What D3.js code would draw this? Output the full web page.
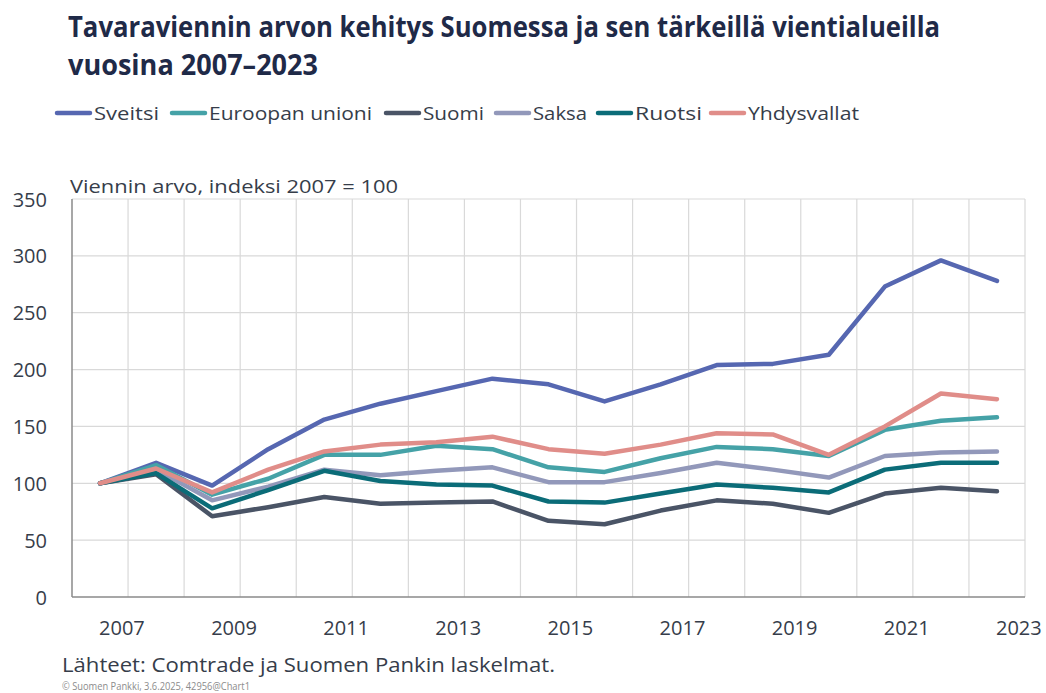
<!DOCTYPE html>
<html>
<head>
<meta charset="utf-8">
<script src="https://cdn.jsdelivr.net/npm/d3@7"></script>
<style>
  html, body { margin: 0; padding: 0; background: #ffffff; }
  svg { display: block; }
</style>
</head>
<body>
<svg id="chart" width="1046" height="693"></svg>
<script>
// ---------- data ----------
const years = [2007, 2008, 2009, 2010, 2011, 2012, 2013, 2014, 2015, 2016, 2017, 2018, 2019, 2020, 2021, 2022, 2023];
const seriesNames = ["Sveitsi", "Euroopan unioni", "Suomi", "Saksa", "Ruotsi", "Yhdysvallat"];
const sveitsi     = [100, 118, 98, 130, 156, 170, 181, 192, 187, 172, 187, 204, 205, 213, 273, 296, 278];
const euroopanUnioni = [100, 116, 90, 104, 125, 125, 133, 130, 114, 110, 122, 132, 130, 124, 147, 155, 158];
const suomi       = [100, 108, 71, 79, 88, 82, 83, 84, 67, 64, 76, 85, 82, 74, 91, 96, 93];
const saksa       = [100, 112, 85, 97, 112, 107, 111, 114, 101, 101, 109, 118, 112, 105, 124, 127, 128];
const ruotsi      = [100, 109, 78, 94, 111, 102, 99, 98, 84, 83, 91, 99, 96, 92, 112, 118, 118];
const yhdysvallat = [100, 113, 92, 112, 128, 134, 136, 141, 130, 126, 134, 144, 143, 125, 150, 179, 174];
const yTicks = [0, 50, 100, 150, 200, 250, 300, 350];
const xTickLabels = ["2007", "2009", "2011", "2013", "2015", "2017", "2019", "2021", "2023"];

// ---------- styles ----------
const colors = ["#5667b1", "#45a2a7", "#4a5466", "#9298ba", "#0b6c78", "#e08d89"];
const textColor = "#363d4a";
const fontBody = "'Open Sans', 'Noto Sans', sans-serif";
const fontTitle = "'Liberation Sans Narrow', 'Open Sans', 'Noto Sans', sans-serif";

const svg = d3.select("#chart");
const margin = { left: 72, right: 1025, top: 199, bottom: 597 };

const x = d3.scaleBand().domain(years).range([margin.left, margin.right]).padding(0);
const y = d3.scaleLinear().domain([0, 350]).range([margin.bottom, margin.top]);
const bw = x.bandwidth();
const cx = d => x(d) + bw / 2;

// ---------- title ----------
svg.append("text")
  .attr("x", 68).attr("y", 37)
  .attr("font-family", fontTitle).attr("font-weight", "bold")
  .attr("font-size", 28).attr("fill", "#1f2a48")
  .attr("textLength", 872).attr("lengthAdjust", "spacingAndGlyphs")
  .text("Tavaraviennin arvon kehitys Suomessa ja sen tärkeillä vientialueilla");
svg.append("text")
  .attr("x", 68).attr("y", 75)
  .attr("font-family", fontTitle).attr("font-weight", "bold")
  .attr("font-size", 28).attr("fill", "#1f2a48")
  .attr("textLength", 250).attr("lengthAdjust", "spacingAndGlyphs")
  .text("vuosina 2007–2023");

// ---------- legend ----------
const legendX = [57, 172, 386, 496, 598, 711];
const legendTextW = [65, 163, 61, 54, 67, 111];
const legendY = 113;
const lg = svg.append("g");
seriesNames.forEach((name, i) => {
  lg.append("line")
    .attr("x1", legendX[i]).attr("x2", legendX[i] + 33)
    .attr("y1", legendY).attr("y2", legendY)
    .attr("stroke", colors[i]).attr("stroke-width", 4.5).attr("stroke-linecap", "round");
  lg.append("text")
    .attr("x", legendX[i] + 37).attr("y", legendY + 7)
    .attr("font-family", fontBody).attr("font-size", 19).attr("fill", textColor)
    .attr("textLength", legendTextW[i]).attr("lengthAdjust", "spacingAndGlyphs")
    .text(name);
});

// ---------- grid ----------
const grid = svg.append("g");
// horizontal gridlines
grid.selectAll("line.h").data(yTicks.filter(t => t > 0)).join("line")
  .attr("x1", margin.left).attr("x2", margin.right)
  .attr("y1", d => y(d)).attr("y2", d => y(d))
  .attr("stroke", "#d9d9d9").attr("stroke-width", 1.2);
// vertical gridlines at band boundaries
const vPos = years.map(d => x(d)).slice(1).concat([margin.right]);
grid.selectAll("line.v").data(vPos).join("line")
  .attr("x1", d => d).attr("x2", d => d)
  .attr("y1", margin.top).attr("y2", margin.bottom)
  .attr("stroke", "#d9d9d9").attr("stroke-width", 1.2);

// axes lines
svg.append("line")
  .attr("x1", margin.left).attr("x2", margin.left)
  .attr("y1", margin.top).attr("y2", margin.bottom)
  .attr("stroke", "#8a8a8a").attr("stroke-width", 1.5);
svg.append("line")
  .attr("x1", margin.left).attr("x2", margin.right)
  .attr("y1", margin.bottom).attr("y2", margin.bottom)
  .attr("stroke", "#8a8a8a").attr("stroke-width", 1.5);

// y tick labels via axis
const yAxis = d3.axisLeft(y).tickValues(yTicks).tickSize(0).tickPadding(0);
const yg = svg.append("g").attr("transform", "translate(47,0)").call(yAxis);
yg.select(".domain").remove();
yg.selectAll("text")
  .attr("font-family", fontBody).attr("font-size", 20).attr("fill", textColor)
  .attr("dy", "0.35em");

// x tick labels (every second year; labels sit right of the category centre as in the source)
const xAxis = d3.axisBottom(x).tickValues(xTickLabels.map(Number)).tickSize(0).tickPadding(0)
  .tickFormat(d3.format("d"));
const xg = svg.append("g").attr("transform", `translate(${bw * 0.39},${margin.bottom + 38})`).call(xAxis);
xg.select(".domain").remove();
xg.selectAll("text")
  .attr("font-family", fontBody).attr("font-size", 20).attr("fill", textColor)
  .attr("dy", "0");

// y axis title
svg.append("text")
  .attr("x", 70).attr("y", 193)
  .attr("font-family", fontBody).attr("font-size", 19).attr("fill", textColor)
  .attr("textLength", 328).attr("lengthAdjust", "spacingAndGlyphs")
  .text("Viennin arvo, indeksi 2007 = 100");

// ---------- lines ----------
const allSeries = [sveitsi, euroopanUnioni, suomi, saksa, ruotsi, yhdysvallat];
const line = d3.line().x((d, i) => cx(years[i])).y(d => y(d));
svg.append("g").selectAll("path").data(allSeries).join("path")
  .attr("d", d => line(d))
  .attr("fill", "none")
  .attr("stroke", (d, i) => colors[i])
  .attr("stroke-width", 4.5)
  .attr("stroke-linejoin", "round")
  .attr("stroke-linecap", "round");

// ---------- footer ----------
svg.append("text")
  .attr("x", 62).attr("y", 672)
  .attr("font-family", fontBody).attr("font-size", 20).attr("fill", textColor)
  .attr("textLength", 493).attr("lengthAdjust", "spacingAndGlyphs")
  .text("Lähteet: Comtrade ja Suomen Pankin laskelmat.");
svg.append("text")
  .attr("x", 62).attr("y", 690)
  .attr("font-family", fontBody).attr("font-size", 10.5).attr("fill", "#8c8c8c")
  .attr("textLength", 188).attr("lengthAdjust", "spacingAndGlyphs")
  .text("© Suomen Pankki, 3.6.2025, 42956@Chart1");
</script>
</body>
</html>
